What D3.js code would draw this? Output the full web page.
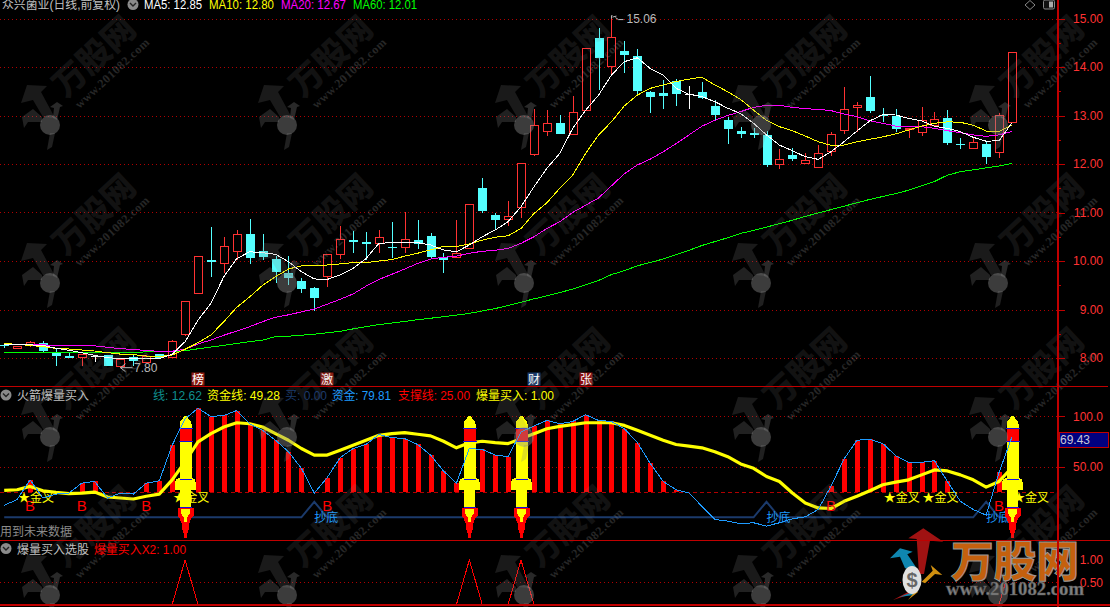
<!DOCTYPE html>
<html><head><meta charset="utf-8">
<style>
html,body{margin:0;padding:0;background:#000;overflow:hidden}
svg{display:block}
text{font-family:"Liberation Sans","Noto Sans CJK SC",sans-serif;font-size:12px}
</style>
<script src="https://cdn.jsdelivr.net/npm/d3@7/dist/d3.min.js"></script>
</head><body><svg id="c" width="1110" height="607"></svg>
<script>
// ---------- data ----------
const opens=[8.275,8.22,8.254,8.316,8.13,8.04,8.014,8.048,8.06,7.84,
8.014,7.924,8.082,8.014,8.495,9.326,10.014,9.952,10.192,10.557,
10.206,10.034,9.746,9.588,9.443,9.677,10.137,10.433,10.4,10.357,
10.285,10.296,10.426,10.509,10.082,10.076,10.254,11.5,10.948,10.866,
11.107,12.192,12.667,12.845,12.605,13.1,14.605,14.014,14.33,14.227,
13.478,13.464,13.704,13.436,13.484,13.189,12.907,12.68,12.646,12.598,
11.986,12.186,12.007,11.938,12.254,12.687,13.162,13.375,13.017,12.99,
12.708,12.667,12.811,12.942,12.42,12.337,12.412,12.24,12.859];
const closes=[8.247,8.254,8.323,8.151,8.05,8.007,8.076,8.048,7.835,7.986,
7.938,8.048,8.007,8.344,9.168,10.096,9.966,10.302,10.55,10.062,
10.089,9.773,9.636,9.423,9.244,10.137,10.447,10.4,10.357,10.488,
10.275,10.46,10.337,10.082,10.027,10.158,11.168,11.016,10.845,10.928,
12.014,12.797,12.838,12.619,13.065,14.385,14.192,14.612,14.254,13.505,
13.368,13.409,13.43,13.436,13.36,12.997,12.729,12.62,12.598,11.979,
12.096,12.103,12.076,12.22,12.612,13.127,13.21,13.093,13.0,12.729,
12.735,12.907,12.935,12.433,12.4,12.46,12.151,13.003,14.302];
const highs=[8.29,8.254,8.344,8.344,8.2,8.096,8.076,8.06,8.06,7.986,
8.055,8.06,8.09,8.37,9.168,10.096,10.694,10.488,10.639,10.866,
10.55,10.1,10.1,9.643,9.464,10.137,10.72,10.62,10.6,10.64,
10.8,11.02,10.845,10.57,10.158,10.845,11.168,11.705,10.997,11.244,
12.014,13.134,13.113,13.01,13.402,14.385,14.804,15.06,14.536,14.37,
13.512,13.732,13.75,13.608,13.69,13.32,12.976,12.77,12.735,12.68,
12.31,12.323,12.22,12.392,12.653,13.58,13.27,13.814,13.155,13.127,
12.735,13.168,13.065,13.107,12.53,12.564,12.46,13.058,14.302];
const lows=[8.2,8.22,8.227,8.124,7.84,8.0,7.84,7.92,7.835,7.8,
7.84,7.92,8.0,8.014,8.454,9.326,9.677,9.76,10.02,9.93,
10.02,9.553,9.512,9.347,8.976,9.457,10.05,10.17,10.02,10.17,
10.07,10.17,10.247,10.055,9.746,10.076,10.254,11.0,10.66,10.73,
10.89,12.172,12.577,12.619,12.605,13.1,13.526,13.814,13.883,13.42,
13.058,13.141,13.2,13.141,13.347,12.907,12.412,12.53,12.53,11.945,
11.897,12.062,12.007,11.938,12.172,12.619,12.667,13.06,12.86,12.667,
12.53,12.584,12.811,12.392,12.316,12.316,12.007,12.13,12.859];
const ma5=[8.27,8.27,8.27,8.26,8.2,8.16,8.11,8.055,8.007,7.986,7.98,7.98,7.99,
8.076,8.337,8.78,9.127,9.677,10.05,10.19,10.17,10.137,9.986,9.78,9.63,9.62,9.71,9.85,10.05,
10.364,10.378,10.378,10.378,10.33,10.227,10.19,10.33,10.5,10.64,10.81,
11.12,11.53,11.91,12.22,12.735,13.11,13.42,13.835,14.11,14.19,13.97,13.835,13.56,13.436,13.39,13.285,13.15,
13.04,12.84,12.6,12.39,12.275,12.15,12.096,12.254,12.46,12.68,12.89,13.017,13.01,12.94,12.89,12.78,12.735,12.667,12.55,12.47,12.48,12.85];
const ma10=[8.30,8.28,8.26,8.234,8.2,8.186,8.165,8.144,8.11,8.08,8.07,8.04,8.03,8.06,8.18,8.316,8.474,8.75,9.045,9.26,9.5,9.677,9.835,9.9,9.9,9.918,9.94,9.966,9.966,
10.0,10.03,10.1,10.16,10.23,10.3,10.3,10.35,10.43,10.49,10.52,10.67,10.98,11.2,11.5,
11.77,12.22,12.6,12.87,13.2,13.42,13.56,13.63,13.7,13.75,13.79,13.63,13.49,
13.33,13.11,12.9,12.77,12.687,12.577,12.46,12.385,12.39,12.46,12.51,12.56,12.62,12.7,12.78,12.84,12.87,12.86,12.8,12.68,12.67,12.80];
const ma20=[8.29,8.285,8.28,8.27,8.26,8.26,8.26,8.25,8.22,8.19,8.18,8.15,8.14,8.14,8.18,8.29,8.37,8.47,8.557,8.646,8.75,8.84,8.89,8.95,9.01,9.11,9.21,9.32,9.48,
9.62,9.725,9.835,9.95,10.04,10.076,10.10,10.16,10.2,10.22,10.26,10.364,10.5,10.67,10.81,11.0,
11.15,11.3,11.55,11.80,11.98,12.1,12.25,12.42,12.6,12.78,12.9,13.0,
13.08,13.168,13.21,13.21,13.168,13.14,13.127,13.1,13.03,12.976,12.89,12.84,12.78,12.77,12.77,12.735,12.687,12.646,12.6,12.57,12.6,12.67];
const ma60=[8.115,8.115,8.115,8.115,8.115,8.12,8.12,8.12,8.12,8.12,8.12,8.125,8.125,8.13,
8.15,8.19,8.227,8.26,8.3,8.337,8.37,8.44,8.45,8.47,8.49,8.52,8.55,8.6,8.645,
8.69,8.72,8.755,8.79,8.82,8.85,8.885,8.92,8.97,9.02,9.08,9.15,9.22,9.28,9.35,9.42,9.51,9.6,9.72,9.8,
9.9,9.97,10.04,10.13,10.22,10.32,10.4,10.48,10.57,10.63,10.7,10.77,10.84,10.92,10.99,11.06,11.13,11.2,11.27,11.33,
11.39,11.46,11.55,11.64,11.77,11.84,11.88,11.92,11.96,12.01];
const fund=[11.9,17.5,37.1,19.1,23,24,33.8,35.5,19.1,24,23,33.8,36.1,71.4,97.5,108,99.8,100.8,105.7,92.6,86.1,76.3,64.9,48.5,24,39.4,59,68.1,72.1,
81.9,78.9,77.9,72.1,61.6,45.9,33.8,68.1,67.2,61.6,60,84.5,90.4,95.9,92.6,94.9,101.5,95.9,94.9,87.7,74,53.4,35.5,27.3,24,10.9,-2.1,-3.8,
-6.4,-5.4,-8.7,-5.4,-1.5,0.5,7.7,31.2,57.7,76.3,77.3,73,61,54.4,54.4,56,35.5,15.8,7.7,2.1,44.6,79.81];
const fundLine=[26.6,27.3,30.6,26.3,24.7,23.4,24,25,20.1,19.1,18.1,20.8,23,37.1,55,74.7,82.8,89.4,93.6,92.6,89.4,82.8,76.3,68.1,61.6,61.6,66.5,71.4,76.3,
81.2,82.8,83.8,82.2,80.6,75.3,68.8,73.7,75.3,74,73,77.9,82.8,87.7,90,91.7,93.6,93.6,93.6,91,86.1,81.2,76.3,72.1,70.4,68.8,64.9,60,
52.8,48.5,40.4,35.5,24,14.2,9.3,8.7,15.8,20.8,26.3,32.2,34.8,37.1,42,46.9,45.9,42,37.1,29.9,35.5,49.28];
const rocketDays=[14,36,40,78];
const bottomDays=[24,59,76];
const bottomLevel=15.4;
const bDays=[2,6,11,25,64,77];
const crossDays=[1,13,68,71,78];
const priceTicks=[15,14,13,12,11,10,9,8];
const priceMinor=[14.5,13.5,12.5,11.5,10.5,9.5,8.5];
const midTicks=[100,50];
const midLabels=["100.0","50.00"];
const subTicks=[1,0.5];
const support=25;
const days=d3.range(79);
const eventBadges=[{d:15,t:"榜",c:"#8c1a10"},{d:25,t:"激",c:"#8c1a10"},{d:41,t:"财",c:"#1b3a6b"},{d:45,t:"张",c:"#8c1010"}];
const titleMain="众兴菌业(日线,前复权)";
const mainLegend=[["MA5: 12.85","#fff",144,58],["MA10: 12.80","#ff0",209,65],["MA20: 12.67","#f0f",281,65],["MA60: 12.01","#0f0",353,64]];
const midLegend=[["线: 12.62","#0f8f8f",153,49],["资金线: 49.28","#ff0",207,73],["买: 0.00","#1b3a6b",285,42],["资金: 79.81","#1e9bff",332,59],["支撑线: 25.00","#f00",398,72],["爆量买入: 1.00","#ff0",476,78]];

// ---------- scales ----------
const svg=d3.select("#c");
const W=1058;
const x=d3.scaleLinear().domain([0,78]).range([4.2,1012]);
const yP=d3.scaleLinear().domain([8,15]).range([358,18.5]);
const yM=d3.scaleLinear().domain([0,100]).range([517.3,416.3]);
const yS=d3.scaleLinear().domain([0,1]).range([604.5,560]);
const RED="#ff3232",CY="#54ffff";

svg.append("rect").attr("width",1110).attr("height",607).attr("fill","#000");

// grid
const grid=svg.append("g").attr("shape-rendering","crispEdges");
function gridLines(vals,sc,dash){
  grid.selectAll(null).data(vals).join("line").attr("x1",0).attr("x2",W)
    .attr("y1",d=>Math.round(sc(d))+.5).attr("y2",d=>Math.round(sc(d))+.5)
    .attr("stroke","#b00000").attr("stroke-dasharray",dash);
}
gridLines(priceTicks,yP,"1 3");
gridLines(midTicks,yM,"1 3");
gridLines([support],yM,"4 3");
gridLines([subTicks[1]],yS,"1 3");

// candles
const cg=svg.append("g").attr("shape-rendering","crispEdges");
const col=i=>closes[i]>opens[i]?RED:(closes[i]<opens[i]?CY:"#fff");
cg.selectAll(".w").data(days).join("line")
  .attr("x1",i=>Math.round(x(i))+.5).attr("x2",i=>Math.round(x(i))+.5)
  .attr("y1",i=>yP(highs[i])).attr("y2",i=>yP(lows[i])).attr("stroke",col);
cg.selectAll(".b").data(days).join("rect")
  .attr("x",i=>Math.round(x(i))-4+(closes[i]>opens[i]?.5:0))
  .attr("width",i=>closes[i]>opens[i]?8:9)
  .attr("y",i=>Math.round(yP(Math.max(opens[i],closes[i])))+(closes[i]>opens[i]?.5:0))
  .attr("height",i=>Math.max(1,Math.round(Math.abs(yP(opens[i])-yP(closes[i])))))
  .attr("fill",i=>closes[i]>opens[i]?"#000":col(i))
  .attr("stroke",i=>closes[i]>opens[i]?RED:"none");

// moving averages
const line=sc=>d3.line().x((d,i)=>x(i)).y(d=>sc(d));
[[ma60,"#0f0"],[ma20,"#f0f"],[ma10,"#ff0"],[ma5,"#fff"]].forEach(([a,c])=>{
  svg.append("path").attr("d",line(yP)(a)).attr("fill","none").attr("stroke",c).attr("stroke-width",1).attr("shape-rendering","crispEdges");
});

// extreme labels
const ext=svg.append("g");
ext.append("path").attr("d",`M${x(47)+1} ${yP(15.06)}h-1v3M${x(47)+1} ${yP(15.06)+1.5}l4 -1 M${x(47)+4} ${yP(15.06)+2}l3 2h5`).attr("fill","none").attr("stroke","#bbb");
ext.append("text").attr("x",x(47)+15).attr("y",yP(15.06)+7).attr("fill","#bbb").text("15.06");
ext.append("path").attr("d",`M${x(9)} ${yP(7.8)}l5 -4M${x(9)} ${yP(7.8)}l5 4M${x(9)} ${yP(7.8)}h12`).attr("fill","none").attr("stroke","#bbb");
ext.append("text").attr("x",x(9)+13.5).attr("y",yP(7.8)+4.5).attr("fill","#bbb").text("7.80");

// badges
const bd=svg.append("g").selectAll("g").data(eventBadges).join("g").attr("transform",d=>`translate(${Math.round(x(d.d))-6.5},372.5)`);
bd.append("rect").attr("width",13).attr("height",13).attr("fill",d=>d.c);
bd.append("text").attr("x",6.5).attr("y",11).attr("text-anchor","middle").attr("fill","#fff").text(d=>d.t);

// indicator bars
svg.append("g").attr("shape-rendering","crispEdges").selectAll("rect")
 .data(days.filter(i=>fund[i]>support)).join("rect")
 .attr("x",i=>Math.round(x(i))-2).attr("width",5)
 .attr("y",i=>yM(fund[i])).attr("height",i=>yM(support)-yM(fund[i])).attr("fill","#f00");

// buy line (抄底)
const buy=days.map(i=>bottomDays.includes(i)?bottomLevel:0);
svg.append("path").attr("d",line(yM)(buy)).attr("fill","none").attr("stroke","#1b3a6b").attr("stroke-width",2);

// thick fund line
svg.append("path").attr("d",line(yM)(fundLine)).attr("fill","none").attr("stroke","#ff0").attr("stroke-width",3.2).attr("stroke-linejoin","round");

// signals text
svg.append("g").selectAll("text").data(bDays).join("text")
 .attr("x",i=>x(i)).attr("y",511).attr("text-anchor","middle").attr("fill","#f00").style("font-size","15px").text("B");
svg.append("g").selectAll("text").data(crossDays).join("text")
 .attr("x",i=>x(i)+1).attr("y",501.5).attr("fill","#ff0").text("★金叉");
svg.append("g").selectAll("text").data(bottomDays).join("text")
 .attr("x",i=>x(i)).attr("y",522).attr("fill","#1e9bff").text("抄底");

// rockets
const rockets=svg.append("g").selectAll("g").data(rocketDays).join("g")
 .attr("transform",i=>`translate(${Math.round(x(i))+.5},0)`).attr("shape-rendering","crispEdges");
const poly=(g,pts,c)=>g.append("polygon").attr("points",pts.map(p=>p.join(",")).join(" ")).attr("fill",c);
poly(rockets,[[-1.5,416],[1.5,416],[3,419],[4.5,420],[6,424],[6,478],[9.5,479],[10.5,484],[10.5,490],[5.7,490],[5.7,507],[-5.7,507],[-5.7,490],[-10.5,490],[-10.5,484],[-9.5,479],[-6,478],[-6,424],[-4.5,420],[-3,419]],"#ff0");
poly(rockets,[[-6,428],[6,428],[6,441],[-6,441]],"#f00");
poly(rockets,[[-8,508],[8,508],[8,516],[6,518],[4,523],[3.5,528],[2,533],[1,538],[-1,538],[-2,533],[-3.5,528],[-4,523],[-6,518],[-8,516]],"#f00");
poly(rockets,[[-4.5,509],[4.5,509],[4,514],[2,517],[1,522],[-1,522],[-2,517],[-4,514]],"#ff0");
[[428,7],[441,7],[479,6],[507.5,6]].forEach(([yy,w])=>{
 rockets.append("line").attr("x1",-w).attr("x2",w).attr("y1",yy).attr("y2",yy).attr("stroke","#1010e0");
});

// fund line thin
svg.append("path").attr("d",line(yM)(fund)).attr("fill","none").attr("stroke","#1e9bff").attr("stroke-width",1).attr("shape-rendering","crispEdges");

// bottom pane signal
const sig=days.map(i=>rocketDays.includes(i)?1:0);
svg.append("path").attr("d",line(yS)(sig)).attr("fill","none").attr("stroke","#f00").attr("stroke-width",1).attr("shape-rendering","crispEdges");

// watermark overlay
const wmCols=[50,287,524,761,998], wmRows=[125,283,437,595];
const tiles=wmRows.flatMap(r=>wmCols.map(c=>[c,r]));
const wm=svg.append("g").selectAll("g").data(tiles).join("g").attr("transform",d=>`translate(${d[0]},${d[1]})`).attr("pointer-events","none");
wm.append("polygon").attr("points","-23,-40 -3,-39 -9,-33 5,-7 -7,-8 -17,-25 -29,-22").attr("fill","#808080").attr("opacity",.2);
wm.append("polygon").attr("points","-28,-8 -17,-16 -8,-8 -8,-3 -22,-3 -26,3").attr("fill","#808080").attr("opacity",.26);
wm.append("polygon").attr("points","0,-18 7,-23 13,-19 10,-18 7,-5 3,-7 4,-17").attr("fill","#808080").attr("opacity",.32);
wm.append("ellipse").attr("rx",10).attr("ry",10).attr("fill","#909090").attr("opacity",.42);
wm.append("polygon").attr("points","0,8 5,8 2,22 -3,25").attr("fill","#808080").attr("opacity",.25);
wm.append("text").attr("transform","translate(52,-60) rotate(-43)").attr("text-anchor","middle")
 .style("font-size","33px").style("font-weight","900").attr("fill","#808080").attr("opacity",.14).text("万股网");
wm.append("text").attr("transform","translate(65,-49) rotate(-43)").attr("text-anchor","middle")
 .style("font-family","'Liberation Serif',serif").style("font-size","12px").style("font-weight","700").style("letter-spacing",".6px").attr("fill","#808080").attr("opacity",.3).text("www.201082.com");

// axes
const axisG=svg.append("g").attr("transform",`translate(${W},0)`);
function axis(sc,vals,fmt,size){
 const g=axisG.append("g").call(d3.axisRight(sc).tickValues(vals).tickSize(size).tickFormat(fmt));
 g.select(".domain").remove();
 g.selectAll("line").attr("stroke","#c00000").attr("stroke-width",1).attr("shape-rendering","crispEdges");
 g.selectAll("text").attr("x",45).attr("text-anchor","end").attr("fill",RED).style("font-size","12px").style("font-family","Liberation Sans");
 return g;
}
axis(yP,priceTicks,d3.format(".2f"),7);
axis(yP,priceMinor,()=>"",3);
axis(yM,midTicks,(d,i)=>midLabels[i],7);
axis(yS,subTicks,d3.format(".2f"),0);

// logo
const logo=svg.append("g");
logo.append("polygon").attr("points","923.3,528.3 943.3,541.7 930,540.7 924,574 919,574 916.7,539 908.3,538.3").attr("fill","#a01212");
logo.append("polygon").attr("points","890,558.3 900,548.3 912.7,551.7 907.3,554.3 916.7,568.3 905,568.3 900,556.7").attr("fill","#0f86b0");
logo.append("polygon").attr("points","921.7,581.7 932.7,570.7 930.7,565 942.3,575 935,574 925,583.3").attr("fill","#d09010");
logo.append("polygon").attr("points","893,600 912,590 914,593").attr("fill","#b01515");
logo.append("polygon").attr("points","899,597 916,591 914,595").attr("fill","#0f86b0");
logo.append("polygon").attr("points","908,600 916,590 918,592").attr("fill","#d09010");
logo.append("ellipse").attr("cx",912).attr("cy",580).attr("rx",9.5).attr("ry",14).attr("fill","#e0e0e0");
logo.append("text").attr("x",912).attr("y",587).attr("text-anchor","middle").attr("fill","#666").style("font-size","20px").style("font-weight","700").text("$");
logo.append("text").attr("x",951).attr("y",577).attr("textLength",128).attr("lengthAdjust","spacingAndGlyphs")
 .style("font-size","43px").style("font-weight","900").attr("fill","#c4600e").attr("stroke","#999").attr("stroke-width",1).text("万股网");
logo.append("text").attr("x",946).attr("y",595).attr("textLength",138).attr("lengthAdjust","spacingAndGlyphs")
 .style("font-family","'Liberation Serif',serif").style("font-size","18px").style("font-weight","700").attr("fill","#808080").attr("stroke","#555").attr("stroke-width",.5).text("www.201082.com");

// panel frames
const fr=svg.append("g").attr("stroke","#c00000").attr("shape-rendering","crispEdges");
fr.append("line").attr("x1",W).attr("x2",W).attr("y1",0).attr("y2",607).attr("stroke-width",2);
[[386.5,1108],[540.5,1110],[605,1110]].forEach(([yy,xe])=>fr.append("line").attr("x1",0).attr("x2",xe).attr("y1",yy).attr("y2",yy).attr("stroke-width",1.5));

// value box
svg.append("rect").attr("x",1059).attr("y",432).attr("width",49.5).attr("height",15).attr("fill","#000080").attr("stroke","#c00000").attr("shape-rendering","crispEdges");
svg.append("text").attr("x",1060).attr("y",444).attr("fill","#c8c8d8").text("69.43");

// legends
function chevron(cx,cy){
 svg.append("circle").attr("cx",cx).attr("cy",cy).attr("r",5.5).attr("fill","#8a8a8a");
 svg.append("path").attr("d",`M${cx-3} ${cy-1.5}L${cx} ${cy+1.5}L${cx+3} ${cy-1.5}`).attr("fill","none").attr("stroke","#222").attr("stroke-width",1.4);
}
const label=(t,c,xx,yy,w)=>{const s=svg.append("text").attr("x",xx).attr("y",yy).attr("fill",c).text(t); if(w) s.attr("textLength",w).attr("lengthAdjust","spacingAndGlyphs");};
label(titleMain,"#c0c0c0",2,9,118);
chevron(133,4.5);
mainLegend.forEach(d=>label(d[0],d[1],d[2],9,d[3]));
chevron(6,395);
label("火箭爆量买入","#c0c0c0",17,400,72);
midLegend.forEach(d=>label(d[0],d[1],d[2],400,d[3]));
label("用到未来数据","#8a8a8a",0,536,72);
chevron(6,548.5);
label("爆量买入选股","#c0c0c0",17,553.5,72);
label("爆量买入X2: 1.00","#f00",94,553.5,92);

// top-right icons
svg.append("path").attr("d","M1030 0.5l5 4.5l-5 4.5l-5 -4.5z").attr("fill","none").attr("stroke","#888");
svg.append("rect").attr("x",1043.5).attr("y",0).attr("width",11).attr("height",9).attr("rx",1.5).attr("fill","#111").attr("stroke","#888");
svg.append("rect").attr("x",1049).attr("y",1.5).attr("width",4).attr("height",6).attr("fill","#aaa");
</script></body></html>
